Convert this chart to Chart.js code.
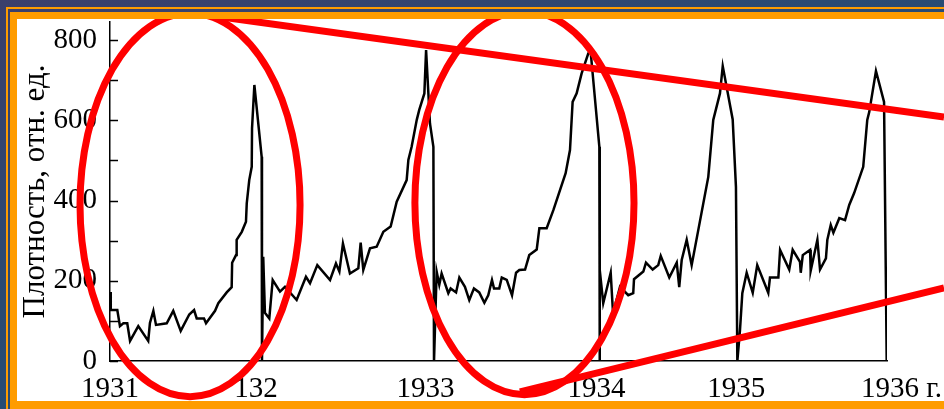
<!DOCTYPE html>
<html>
<head>
<meta charset="utf-8">
<script src="https://cdn.jsdelivr.net/npm/chart.js@4.4.1/dist/chart.umd.min.js"></script>
<style>
  html, body { margin: 0; padding: 0; }
  body {
    width: 944px; height: 409px; overflow: hidden; position: relative;
    background: linear-gradient(160deg, #3b3f6c 0%, #2a4a73 40%, #1d5079 100%);
  }
  .o1 { position: absolute; left: 6px; top: 7px; right: 0; bottom: 0;
        border-top: 2px solid #ff9c00; border-left: 2px solid #ff9c00; }
  .o2 { position: absolute; left: 10px; top: 12px; right: 0; bottom: 0; background: #ff9c00; }
  .plate { position: absolute; left: 17px; top: 19px; width: 927px; height: 382px; background: #fff; }
  canvas { display: block; }
</style>
</head>
<body>
<div class="o1"></div>
<div class="o2"></div>
<div class="plate"><canvas id="chart-plotnost" width="927" height="382"></canvas></div>
<script>
(function () {
  "use strict";

  // годы (дробные) и плотность
  const years = [
    1931.000, 1931.005, 1931.047, 1931.064, 1931.086, 1931.111, 1931.129, 1931.182, 1931.246, 1931.257,
    1931.279, 1931.296, 1931.365, 1931.407, 1931.455, 1931.510, 1931.541, 1931.558, 1931.605, 1931.618,
    1931.676, 1931.697, 1931.751, 1931.783, 1931.786, 1931.811, 1931.815, 1931.848, 1931.875, 1931.880,
    1931.896, 1931.912, 1931.914, 1931.929, 1931.976, 1931.978,
    1931.986, 1931.997, 1932.025, 1932.047, 1932.094, 1932.126, 1932.201, 1932.261, 1932.287, 1932.334,
    1932.416, 1932.454, 1932.476, 1932.499, 1932.544, 1932.598, 1932.613, 1932.630, 1932.673, 1932.716,
    1932.759, 1932.806, 1932.845, 1932.909, 1932.920, 1932.941, 1932.974, 1932.990, 1933.023, 1933.034,
    1933.059, 1933.081, 1933.085,
    1933.102, 1933.119, 1933.134, 1933.177, 1933.192, 1933.227, 1933.248, 1933.284, 1933.312, 1933.342,
    1933.376, 1933.409, 1933.434, 1933.458, 1933.471, 1933.505, 1933.521, 1933.553, 1933.587, 1933.613,
    1933.634, 1933.671, 1933.698, 1933.746, 1933.763, 1933.810, 1933.853, 1933.932, 1933.960, 1933.977,
    1934.003, 1934.035, 1934.078, 1934.093, 1934.149, 1934.150,
    1934.153, 1934.174, 1934.222, 1934.237, 1934.282, 1934.335, 1934.367, 1934.372, 1934.432, 1934.449,
    1934.492, 1934.528, 1934.544, 1934.599, 1934.647, 1934.663, 1934.679, 1934.711, 1934.743, 1934.850,
    1934.882, 1934.925, 1934.943, 1935.007, 1935.028, 1935.037,
    1935.054, 1935.069, 1935.097, 1935.136, 1935.165, 1935.236, 1935.247, 1935.301, 1935.312, 1935.371,
    1935.393, 1935.440, 1935.445, 1935.458, 1935.505, 1935.509, 1935.552, 1935.569, 1935.607, 1935.616,
    1935.638, 1935.655, 1935.693, 1935.730, 1935.757, 1935.788, 1935.847, 1935.873, 1935.886, 1935.929,
    1935.981, 1935.998,
  ];
  const density = [
    172, 127, 127, 87, 94, 94, 50, 87, 50, 95,
    125, 90, 94, 125, 75, 116, 127, 106, 106, 94,
    125, 144, 171, 184, 245, 264, 302, 322, 347, 393,
    451, 484, 580, 688, 509, 0,
    260, 120, 106, 202, 173, 185, 152, 210, 194, 239,
    202, 243, 223, 293, 218, 231, 295, 227, 281, 285,
    322, 335, 397, 451, 501, 534, 601, 626, 667, 775,
    592, 534, 0,
    223, 190, 218, 169, 181, 171, 208, 185, 152, 181,
    171, 145, 164, 202, 181, 181, 208, 202, 164, 220,
    227, 228, 264, 278, 331, 331, 376, 468, 526, 646,
    667, 717, 767, 771, 534, 0,
    227, 144, 220, 119, 185, 164, 169, 204, 223, 245,
    228, 239, 262, 208, 245, 184, 252, 302, 239, 459,
    601, 667, 735, 602, 434, 0,
    77, 169, 220, 170, 239, 170, 208, 208, 277, 228,
    277, 247, 220, 264, 277, 225, 302, 228, 256, 302,
    339, 320, 356, 351, 389, 418, 484, 601, 621, 723,
    646, 0,
  ];

  // подписи оси X (как на оригинале, с опечаткой «132»)
  const xTickPos = [1931, 1931.94, 1933.03, 1934.13, 1935.03, 1936];
  const xTickLabels = ["1931", "132", "1933", "1934", "1935", "    1936 г."];
  const yTicks = [0, 100, 200, 300, 400, 500, 600, 700, 800];

  // красные пометки поверх графика: эллипсы и линии (в единицах данных)
  const ellipses = [
    { x: 1931.515, y: 389, rx: 0.708, ry: 478 },
    { x: 1933.667, y: 394, rx: 0.705, ry: 478 },
  ];
  const trendLines = [
    [{ x: 1931.483, y: 870 }, { x: 1936.367, y: 608 }],
    [{ x: 1933.638, y: -77 }, { x: 1936.367, y: 182 }],
  ];

  const SERIF = '"Liberation Serif", "Times New Roman", serif';
  const FONT = { family: SERIF, size: 29 };

  const innerTicks = {
    id: "innerTicks",
    afterDatasetsDraw(chart) {
      const { ctx } = chart;
      const y = chart.scales.y;
      ctx.save();
      ctx.strokeStyle = "#000";
      ctx.lineWidth = 1.5;
      y.ticks.forEach((t) => {
        const py = Math.round(y.getPixelForValue(t.value)) + 0.5;
        ctx.beginPath();
        ctx.moveTo(y.right, py);
        ctx.lineTo(y.right + 8, py);
        ctx.stroke();
      });
      ctx.restore();
    },
  };

  const marks = {
    id: "marks",
    afterDraw(chart) {
      const { ctx } = chart;
      const sx = chart.scales.x;
      const sy = chart.scales.y;
      ctx.save();
      ctx.strokeStyle = "#ff0000";
      ctx.lineWidth = 7;
      ellipses.forEach((e) => {
        const cx = sx.getPixelForValue(e.x);
        const cy = sy.getPixelForValue(e.y);
        const rx = Math.abs(sx.getPixelForValue(e.x + e.rx) - cx);
        const ry = Math.abs(sy.getPixelForValue(e.y + e.ry) - cy);
        ctx.beginPath();
        ctx.ellipse(cx, cy, rx, ry, 0, 0, Math.PI * 2);
        ctx.stroke();
      });
      trendLines.forEach(([a, b]) => {
        ctx.beginPath();
        ctx.moveTo(sx.getPixelForValue(a.x), sy.getPixelForValue(a.y));
        ctx.lineTo(sx.getPixelForValue(b.x), sy.getPixelForValue(b.y));
        ctx.stroke();
      });
      ctx.restore();
    },
  };

  Chart.defaults.font.family = SERIF;
  Chart.defaults.font.size = 29;
  Chart.defaults.color = "#000";

  new Chart(document.getElementById("chart-plotnost"), {
    type: "line",
    data: {
      datasets: [
        {
          label: "Плотность",
          data: years.map((x, i) => ({ x, y: density[i] })),
          borderColor: "#000",
          borderWidth: 2.5,
          pointRadius: 0,
          tension: 0,
          fill: false,
        },
      ],
    },
    options: {
      responsive: false,
      animation: false,
      devicePixelRatio: 1,
      layout: { padding: { left: 0, top: 3, right: 57, bottom: 0 } },
      plugins: { legend: { display: false }, tooltip: { enabled: false } },
      scales: {
        x: {
          type: "linear",
          min: 1931,
          max: 1936,
          grid: { display: false, drawTicks: false },
          border: { display: true, color: "#000", width: 1.5 },
          afterBuildTicks(scale) {
            scale.ticks = xTickPos.map((v) => ({ value: v }));
          },
          afterFit(scale) {
            scale.height = 40;
            scale.paddingLeft = 0;
            scale.paddingRight = 0;
          },
          ticks: {
            autoSkip: false,
            maxRotation: 0,
            padding: 11,
            font: FONT,
            callback: (v, i) => xTickLabels[i],
          },
        },
        y: {
          type: "linear",
          min: 0,
          max: 845,
          grid: { display: false, drawTicks: false },
          border: { display: true, color: "#000", width: 1.5 },
          afterBuildTicks(scale) {
            scale.ticks = yTicks.map((v) => ({ value: v }));
          },
          afterFit(scale) {
            scale.width = 93;
            scale.paddingTop = 0;
            scale.paddingBottom = 0;
          },
          ticks: {
            padding: 13,
            font: FONT,
            callback: (v) => (v % 200 === 0 ? String(v) : ""),
          },
          title: {
            display: true,
            text: "Плотность, отн. ед.",
            font: { family: SERIF, size: 31 },
            padding: { top: 0, bottom: 0 },
          },
        },
      },
    },
    plugins: [innerTicks, marks],
  });
})();
</script>
</body>
</html>
